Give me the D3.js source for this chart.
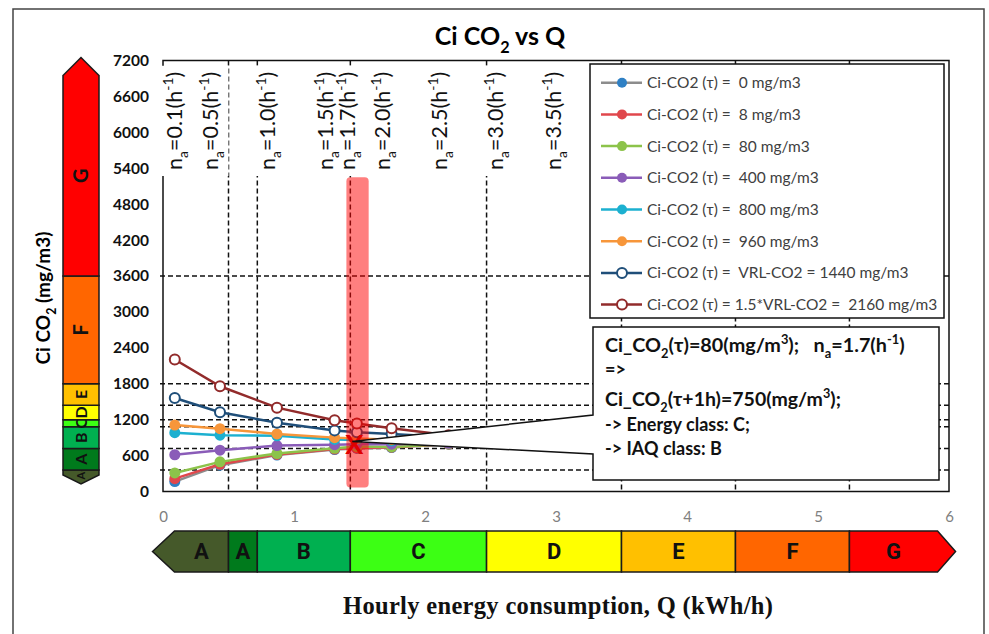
<!DOCTYPE html>
<html>
<head>
<meta charset="utf-8">
<script src="https://cdn.jsdelivr.net/npm/d3@7"></script>
<style>
  body { margin: 0; background: #fff; }
  text { font-family: Lato, "Open Sans", sans-serif; }
</style>
</head>
<body>
<svg id="chart" width="989" height="634"></svg>
<script>
// ---- data ----
var naLabels = ["0.1", "0.5", "1.0", "1.5", "1.7", "2.0", "2.5", "3.0", "3.5"];
var qValues = [0.09, 0.435, 0.87, 1.31, 1.48, 1.745, 2.18, 2.61, 3.05];

var seriesNames = [
  "Ci-CO2 (\u03c4) =  0 mg/m3",
  "Ci-CO2 (\u03c4) =  8 mg/m3",
  "Ci-CO2 (\u03c4) =  80 mg/m3",
  "Ci-CO2 (\u03c4) =  400 mg/m3",
  "Ci-CO2 (\u03c4) =  800 mg/m3",
  "Ci-CO2 (\u03c4) =  960 mg/m3",
  "Ci-CO2 (\u03c4) =  VRL-CO2 = 1440 mg/m3",
  "Ci-CO2 (\u03c4) = 1.5*VRL-CO2 =  2160 mg/m3"
];
var ci0 = [165, 440, 608, 700, 720, 735, 790, 800, 805];
var ci8 = [215, 455, 620, 708, 728, 740, 792, 800, 805];
var ci80 = [310, 495, 635, 722, 750, 745, 795, 802, 806];
var ci400 = [614, 690, 768, 782, 790, 790, 805, 806, 806];
var ci800 = [983, 940, 930, 870, 860, 845, 835, 822, 815];
var ci960 = [1110, 1050, 962, 900, 885, 865, 850, 832, 820];
var ci1440 = [1562, 1323, 1150, 1021, 990, 960, 905, 870, 850];
var ci2160 = [2205, 1758, 1401, 1189, 1135, 1055, 940, 900, 870];

var iaqClasses = ["A+", "A", "B", "C", "D", "E", "F", "G"];
var iaqBounds = [125, 360, 720, 1080, 1200, 1440, 1800, 3600, 7250];
var energyClasses = ["A", "A", "B", "C", "D", "E", "F", "G"];
var energyBounds = [-0.08, 0.5, 0.72, 1.43, 2.47, 3.5, 4.37, 5.24, 6.05];
var yTicks = [0, 600, 1200, 1800, 2400, 3000, 3600, 4200, 4800, 5400, 6000, 6600, 7200];
var xTicks = [0, 1, 2, 3, 4, 5, 6];

var bandQ = [1.4, 1.57];
var bandCi = [65, 5250];
var markQ = 1.46, markCi = 785;

// ---- styles ----
var allSeries = [ci0, ci8, ci80, ci400, ci800, ci960, ci1440, ci2160];
var lineColors = ["#8c8c8c", "#e0474c", "#8cc34a", "#8a5cb8", "#1cb0d0", "#f7963a", "#1f4e79", "#922b2b"];
var markColors = ["#2f80c4", "#e0474c", "#8cc34a", "#8a5cb8", "#1cb0d0", "#f7963a", "#1f4e79", "#922b2b"];
var classColors = ["#45592a", "#007a1c", "#00b050", "#3cff14", "#ffff00", "#ffc000", "#ff6600", "#ff0000"];

var svg = d3.select("#chart");

var x = d3.scaleLinear().domain([0, 6]).range([163, 949]);
var y = d3.scaleLinear().domain([0, 7200]).range([491.5, 60.5]);

// text with sub / superscripts
function rich(sel, parts, size) {
  var shift = 0;
  parts.forEach(function (p) {
    var target = p[1] === "sub" ? size * 0.3 : (p[1] === "sup" ? -size * 0.4 : 0);
    sel.append("tspan")
      .attr("dy", target - shift)
      .attr("font-size", p[1] === "n" ? size : size * 0.65)
      .text(p[0]);
    shift = target;
  });
}

// outer frame
svg.append("path")
  .attr("d", "M13,634 V9 H984 V634")
  .attr("fill", "none").attr("stroke", "#444").attr("stroke-width", 1.5);

// title
var title = svg.append("text").attr("x", 500).attr("y", 45)
  .attr("text-anchor", "middle").attr("font-weight", "bold");
rich(title, [["Ci CO", "n"], ["2", "sub"], [" vs Q", "n"]], 25);

// y title
var yt = svg.append("text")
  .attr("transform", "translate(50,298) rotate(-90)")
  .attr("text-anchor", "middle").attr("font-weight", "bold");
rich(yt, [["Ci CO", "n"], ["2", "sub"], [" (mg/m3)", "n"]], 19);

// ---- vertical IAQ class bar ----
var bx0 = 63, bx1 = 99, bxm = 81;
var vbar = svg.append("g");
iaqClasses.forEach(function (c, i) {
  var lo = y(iaqBounds[i]), hi = y(iaqBounds[i + 1]);
  var pts;
  if (i === 0) {
    pts = [[bx0, hi], [bx1, hi], [bx1, lo - 9], [bxm, lo], [bx0, lo - 9]];
  } else if (i === iaqClasses.length - 1) {
    pts = [[bx0, lo], [bx1, lo], [bx1, hi + 18], [bxm, hi], [bx0, hi + 18]];
  } else {
    pts = [[bx0, lo], [bx1, lo], [bx1, hi], [bx0, hi]];
  }
  vbar.append("polygon")
    .attr("points", pts.map(function (p) { return p.join(","); }).join(" "))
    .attr("fill", classColors[i]).attr("stroke", "#1a1a1a").attr("stroke-width", 1.5);
  var cy = i === 0 ? (hi + lo - 9) / 2 : (i === iaqClasses.length - 1 ? (lo + hi + 18) / 2 : (lo + hi) / 2);
  var fs = i >= 6 ? 20 : (i === 0 ? 11 : 16);
  vbar.append("text")
    .attr("transform", "translate(" + bxm + "," + cy + ") rotate(-90)")
    .attr("text-anchor", "middle").attr("dy", "0.36em")
    .attr("font-weight", "bold").attr("font-size", fs).attr("fill", "#111")
    .text(c);
});

// ---- plot frame / grid ----
svg.append("rect")
  .attr("x", x(0)).attr("y", y(7200))
  .attr("width", x(6) - x(0)).attr("height", y(0) - y(7200))
  .attr("fill", "#fff").attr("stroke", "#111").attr("stroke-width", 1.5);

var grid = svg.append("g");
grid.selectAll("line.h")
  .data(iaqBounds.slice(1, -1))
  .enter().append("line")
  .attr("class", "h")
  .attr("x1", x(0) - 3).attr("x2", x(6))
  .attr("y1", function (d) { return y(d); }).attr("y2", function (d) { return y(d); })
  .attr("stroke", "#111").attr("stroke-width", 1.5).attr("stroke-dasharray", "5,3");
grid.selectAll("line.v")
  .data(energyBounds.slice(1, -1))
  .enter().append("line")
  .attr("class", "v")
  .attr("x1", function (d) { return x(d); }).attr("x2", function (d) { return x(d); })
  .attr("y1", y(7200)).attr("y2", y(0))
  .attr("stroke", "#111").attr("stroke-width", 1.5).attr("stroke-dasharray", "5,3");

// axes
var yAxis = svg.append("g")
  .attr("transform", "translate(" + x(0) + ",0)")
  .call(d3.axisLeft(y).tickValues(yTicks).tickSize(0).tickPadding(14).tickFormat(d3.format("d")));
yAxis.select(".domain").remove();
yAxis.selectAll("text")
  .attr("font-weight", "bold")
  .attr("font-size", 15.5).attr("fill", "#111");

var xAxis = svg.append("g")
  .attr("transform", "translate(0," + y(0) + ")")
  .call(d3.axisBottom(x).tickValues(xTicks).tickSize(0).tickPadding(20).tickFormat(d3.format("d")));
xAxis.select(".domain").remove();
xAxis.selectAll("text")
  .attr("font-size", 15).attr("fill", "#808080");

// ---- series ----
var line = d3.line()
  .x(function (d, i) { return x(qValues[i]); })
  .y(function (d) { return y(d); });

var plot = svg.append("g");
allSeries.forEach(function (s, k) {
  var g = plot.append("g");
  g.append("path").datum(s)
    .attr("d", line)
    .attr("fill", "none").attr("stroke", lineColors[k]).attr("stroke-width", 2.5);
  g.selectAll("circle").data(s).enter().append("circle")
    .attr("cx", function (d, i) { return x(qValues[i]); })
    .attr("cy", function (d) { return y(d); })
    .attr("r", k >= 6 ? 5 : 5.5)
    .attr("fill", k >= 6 ? "#fff" : markColors[k])
    .attr("stroke", markColors[k]).attr("stroke-width", k >= 6 ? 2 : 0);
});

// ---- n_a labels (white backgrounds first, then all texts) ----
var labelBg = svg.append("g");
var labelTx = svg.append("g");
naLabels.forEach(function (n, i) {
  var lx = Math.max(x(qValues[i]) - 2, 182);
  var tr = "translate(" + lx + ",170) rotate(-90)";
  var t = labelTx.append("text").attr("transform", tr).attr("dy", "0.36em").attr("fill", "#111");
  rich(t, [["n", "n"], ["a", "sub"], ["=" + n + "(h", "n"], ["-1", "sup"], [")", "n"]], 21.5);
  var bb = t.node().getBBox();
  labelBg.append("rect").attr("transform", tr)
    .attr("x", bb.x - 6).attr("y", bb.y - 1)
    .attr("width", bb.width + 12).attr("height", bb.height + 2)
    .attr("fill", "#fff");
});

// ---- highlight band and mark ----
svg.append("rect")
  .attr("x", x(bandQ[0])).attr("y", y(bandCi[1]))
  .attr("width", x(bandQ[1]) - x(bandQ[0])).attr("height", y(bandCi[0]) - y(bandCi[1]))
  .attr("rx", 4)
  .attr("fill", "#ff0000").attr("fill-opacity", 0.5);

svg.append("text")
  .attr("x", x(markQ)).attr("y", y(markCi))
  .attr("text-anchor", "middle").attr("dy", "0.36em")
  .attr("font-weight", "bold").attr("font-size", 27).attr("fill", "#e00000")
  .text("X");

// ---- legend ----
var lg = svg.append("g");
lg.append("rect")
  .attr("x", 590).attr("y", 64).attr("width", 354).attr("height", 254)
  .attr("fill", "#fff").attr("stroke", "#111").attr("stroke-width", 1.5);
seriesNames.forEach(function (name, k) {
  var ly = 82.7 + k * 31.7;
  lg.append("line").attr("x1", 601).attr("x2", 642).attr("y1", ly).attr("y2", ly)
    .attr("stroke", lineColors[k]).attr("stroke-width", 2.5);
  lg.append("circle").attr("cx", 622).attr("cy", ly).attr("r", 5)
    .attr("fill", k >= 6 ? "#fff" : markColors[k])
    .attr("stroke", markColors[k]).attr("stroke-width", k >= 6 ? 2 : 0);
  lg.append("text").attr("x", 647).attr("y", ly + 5.5)
    .attr("font-size", 15.5).attr("fill", "#404040")
    .style("white-space", "pre")
    .text(name);
});

// ---- callout ----
var co = svg.append("g");
co.append("path")
  .attr("d", "M593,327 H939 V480 H593 V454 L" + x(markQ - 0.015) + "," + (y(markCi) - 3) + " L593,415 Z")
  .attr("fill", "#fff").attr("stroke", "#111").attr("stroke-width", 1.5);

var calloutLines = [
  [[["Ci_CO", "n"], ["2", "sub"], ["(\u03c4)=80(mg/m", "n"], ["3", "sup"], [");   n", "n"], ["a", "sub"], ["=1.7(h", "n"], ["-1", "sup"], [")", "n"]], 352, 19.8],
  [[["=>", "n"]], 376, 18],
  [[["Ci_CO", "n"], ["2", "sub"], ["(\u03c4+1h)=750(mg/m", "n"], ["3", "sup"], [");", "n"]], 406, 19.5],
  [[["-> Energy class: C;", "n"]], 431, 18],
  [[["-> IAQ class: B", "n"]], 455, 18]
];
calloutLines.forEach(function (cl) {
  var t = co.append("text").attr("x", 605).attr("y", cl[1])
    .attr("font-weight", "bold").attr("fill", "#111").style("white-space", "pre");
  rich(t, cl[0], cl[2]);
});

// ---- energy class bar ----
var ey0 = 531, ey1 = 572, eym = 551.5;
var hbar = svg.append("g");
energyClasses.forEach(function (c, i) {
  var lo = x(energyBounds[i]), hi = x(energyBounds[i + 1]);
  var pts, cx;
  if (i === 0) {
    pts = [[lo, eym], [lo + 22, ey0], [hi, ey0], [hi, ey1], [lo + 22, ey1]];
    cx = (lo + 22 + hi) / 2;
  } else if (i === energyClasses.length - 1) {
    pts = [[lo, ey0], [hi - 18, ey0], [hi, eym], [hi - 18, ey1], [lo, ey1]];
    cx = (lo + hi - 18) / 2;
  } else {
    pts = [[lo, ey0], [hi, ey0], [hi, ey1], [lo, ey1]];
    cx = (lo + hi) / 2;
  }
  hbar.append("polygon")
    .attr("points", pts.map(function (p) { return p.join(","); }).join(" "))
    .attr("fill", classColors[i]).attr("stroke", "#1a1a1a").attr("stroke-width", 1.5);
  hbar.append("text")
    .attr("x", cx).attr("y", eym).attr("dy", "0.36em")
    .attr("text-anchor", "middle")
    .style("font-family", "'Liberation Sans Narrow', 'Roboto', sans-serif")
    .attr("font-weight", "bold").attr("font-size", 22).attr("fill", "#111")
    .text(c);
});

// x title
svg.append("text")
  .attr("x", 558).attr("y", 614)
  .attr("text-anchor", "middle")
  .attr("textLength", 430).attr("lengthAdjust", "spacing")
  .style("font-family", "'Liberation Serif', 'DejaVu Serif', serif")
  .attr("font-weight", "bold").attr("font-size", 24.5).attr("fill", "#111")
  .text("Hourly energy consumption, Q (kWh/h)");
</script>
</body>
</html>
